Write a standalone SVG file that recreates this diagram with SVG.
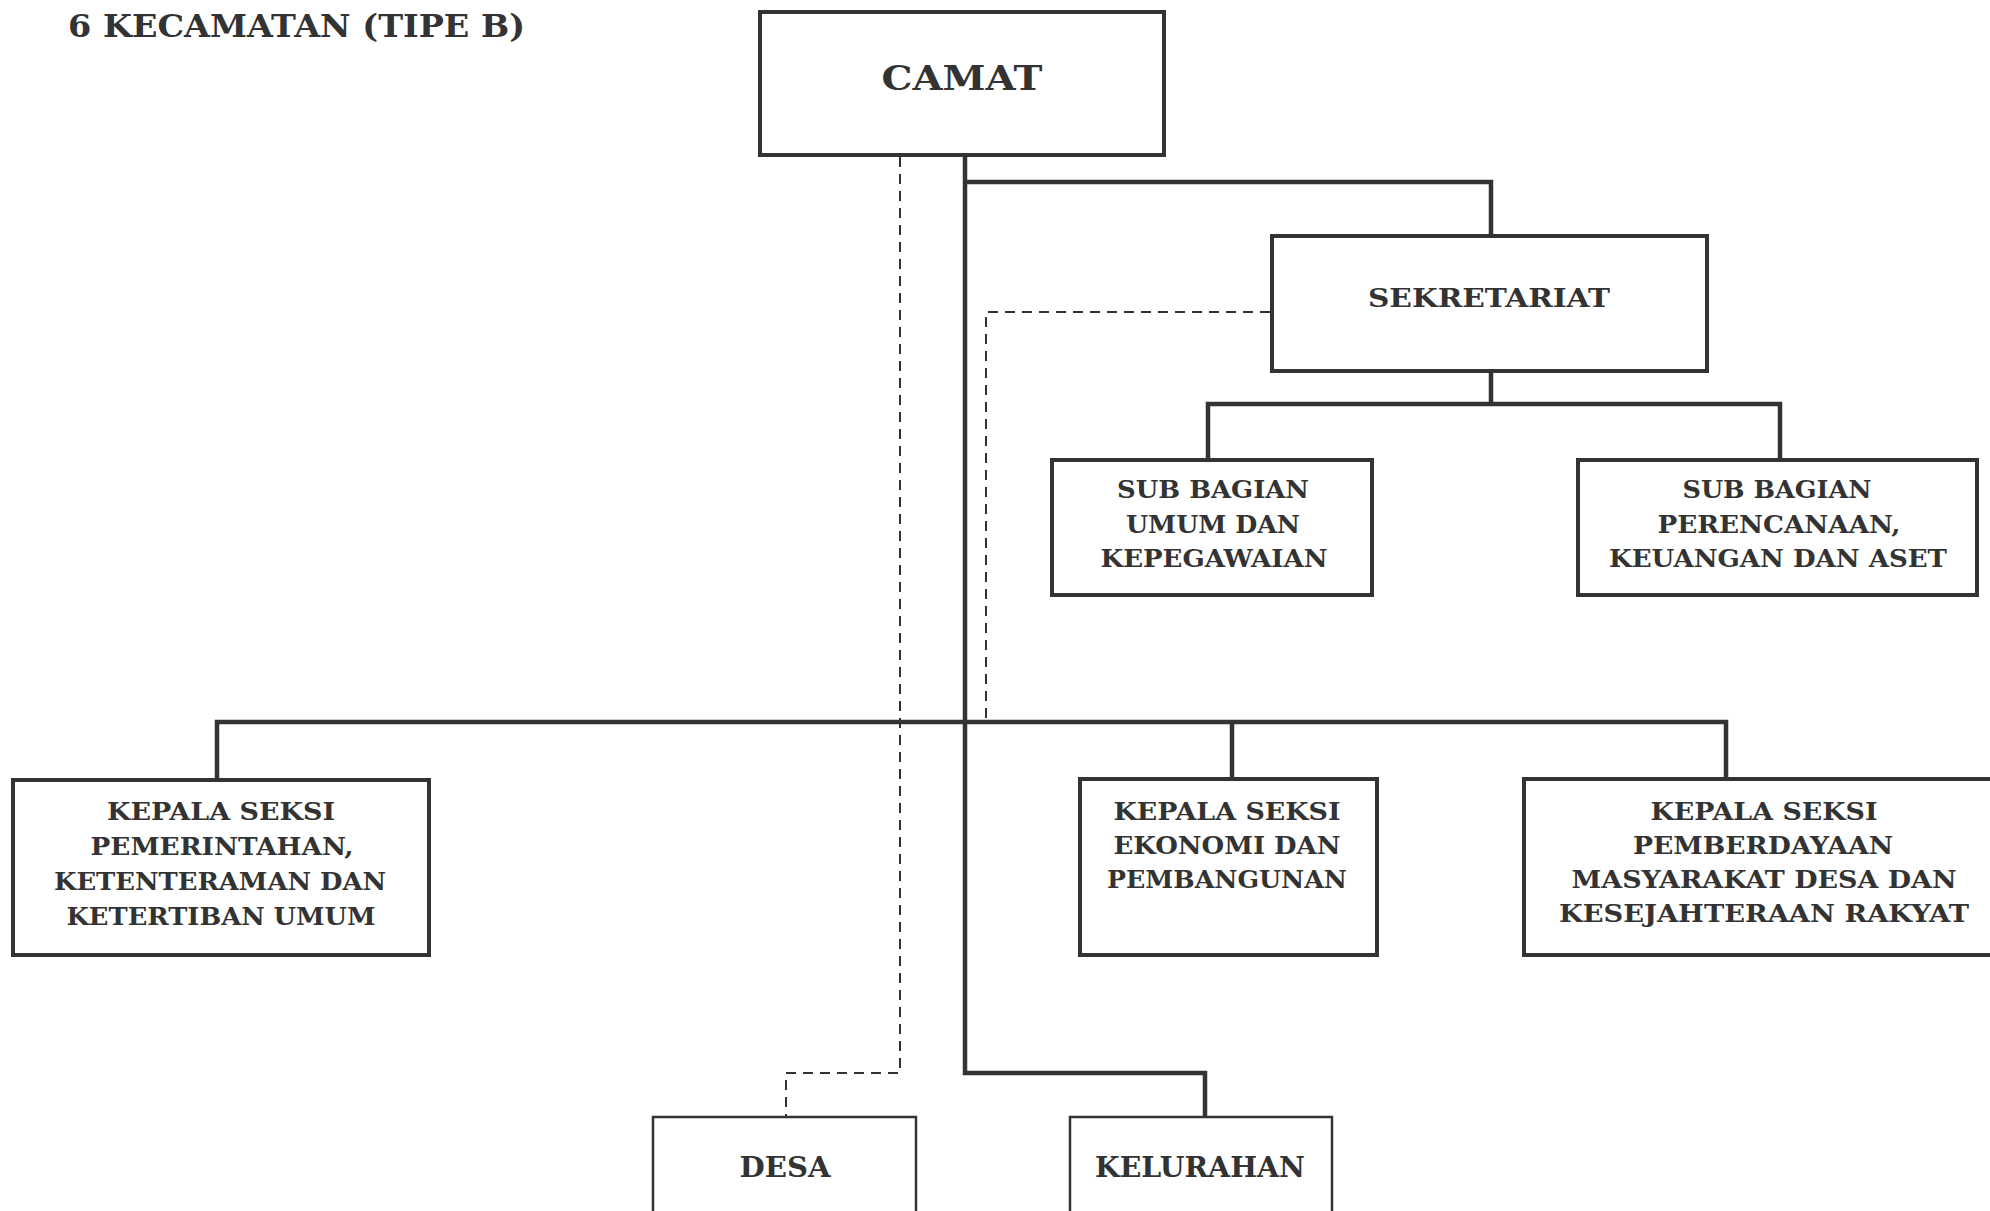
<svg xmlns="http://www.w3.org/2000/svg" width="1990" height="1211" viewBox="0 0 1990 1211">
<style>
.box{fill:#fff;stroke:#333;stroke-width:4}
.thin{fill:#fff;stroke:#333;stroke-width:2.5}
.t{font-family:"DejaVu Serif","Liberation Serif",serif;font-weight:bold;fill:#333;text-anchor:middle}
.s{font-size:24px}
.solid{fill:none;stroke:#333;stroke-width:4.5}
.dash{fill:none;stroke:#333;stroke-width:2;stroke-dasharray:10 7}
</style>
<rect width="1990" height="1211" fill="#fff"/>
<text class="t" x="68" y="37" style="font-size:31px;text-anchor:start" textLength="457" lengthAdjust="spacingAndGlyphs">6 KECAMATAN (TIPE B)</text>
<g id="connectors">
<polyline class="dash" points="900,157 900,1073 786,1073 786,1117"/>
<polyline class="dash" points="1270,312 986,312 986,720"/>
<polyline class="solid" points="965,155 965,1073 1205,1073 1205,1117"/>
<polyline class="solid" points="965,182 1491,182 1491,235"/>
<polyline class="solid" points="1491,371 1491,404"/>
<polyline class="solid" points="1208,459 1208,404 1780,404 1780,459"/>
<polyline class="solid" points="217,780 217,722 1726,722 1726,779"/>
<line class="solid" x1="1232" y1="722" x2="1232" y2="779"/>
</g>
<g id="camat">
<rect class="box" x="760" y="12" width="404" height="143"/>
<text class="t" x="962" y="90" style="font-size:34px" textLength="161" lengthAdjust="spacingAndGlyphs">CAMAT</text>
</g>
<g id="sekretariat">
<rect class="box" x="1272" y="236" width="435" height="135"/>
<text class="t" x="1489" y="307" style="font-size:26px" textLength="242" lengthAdjust="spacingAndGlyphs">SEKRETARIAT</text>
</g>
<g id="subbag-umum">
<rect class="box" x="1052" y="460" width="320" height="135"/>
<text class="t s" x="1213" y="498" textLength="192" lengthAdjust="spacingAndGlyphs">SUB BAGIAN</text>
<text class="t s" x="1213" y="533" textLength="174" lengthAdjust="spacingAndGlyphs">UMUM DAN</text>
<text class="t s" x="1214" y="567" textLength="227" lengthAdjust="spacingAndGlyphs">KEPEGAWAIAN</text>
</g>
<g id="subbag-perencanaan">
<rect class="box" x="1578" y="460" width="399" height="135"/>
<text class="t s" x="1777" y="498" textLength="189" lengthAdjust="spacingAndGlyphs">SUB BAGIAN</text>
<text class="t s" x="1779" y="533" textLength="243" lengthAdjust="spacingAndGlyphs">PERENCANAAN,</text>
<text class="t s" x="1778" y="567" textLength="338" lengthAdjust="spacingAndGlyphs">KEUANGAN DAN ASET</text>
</g>
<g id="seksi-pemerintahan">
<rect class="box" x="13" y="780" width="416" height="175"/>
<text class="t s" x="221" y="820" textLength="228" lengthAdjust="spacingAndGlyphs">KEPALA SEKSI</text>
<text class="t s" x="222" y="855" textLength="263" lengthAdjust="spacingAndGlyphs">PEMERINTAHAN,</text>
<text class="t s" x="220" y="890" textLength="332" lengthAdjust="spacingAndGlyphs">KETENTERAMAN DAN</text>
<text class="t s" x="221" y="925" textLength="309" lengthAdjust="spacingAndGlyphs">KETERTIBAN UMUM</text>
</g>
<g id="seksi-ekonomi">
<rect class="box" x="1080" y="779" width="297" height="176"/>
<text class="t s" x="1227" y="820" textLength="227" lengthAdjust="spacingAndGlyphs">KEPALA SEKSI</text>
<text class="t s" x="1227" y="854" textLength="227" lengthAdjust="spacingAndGlyphs">EKONOMI DAN</text>
<text class="t s" x="1227" y="888" textLength="240" lengthAdjust="spacingAndGlyphs">PEMBANGUNAN</text>
</g>
<g id="seksi-pemberdayaan">
<rect class="box" x="1524" y="779" width="480" height="176"/>
<text class="t s" x="1764" y="820" textLength="227" lengthAdjust="spacingAndGlyphs">KEPALA SEKSI</text>
<text class="t s" x="1763" y="854" textLength="260" lengthAdjust="spacingAndGlyphs">PEMBERDAYAAN</text>
<text class="t s" x="1764" y="888" textLength="385" lengthAdjust="spacingAndGlyphs">MASYARAKAT DESA DAN</text>
<text class="t s" x="1764" y="922" textLength="410" lengthAdjust="spacingAndGlyphs">KESEJAHTERAAN RAKYAT</text>
</g>
<g id="desa">
<rect class="thin" x="653" y="1117" width="263" height="110"/>
<text class="t" x="785" y="1177" style="font-size:27px" textLength="91" lengthAdjust="spacingAndGlyphs">DESA</text>
</g>
<g id="kelurahan">
<rect class="thin" x="1070" y="1117" width="262" height="110"/>
<text class="t" x="1200" y="1177" style="font-size:27px" textLength="210" lengthAdjust="spacingAndGlyphs">KELURAHAN</text>
</g>
</svg>
